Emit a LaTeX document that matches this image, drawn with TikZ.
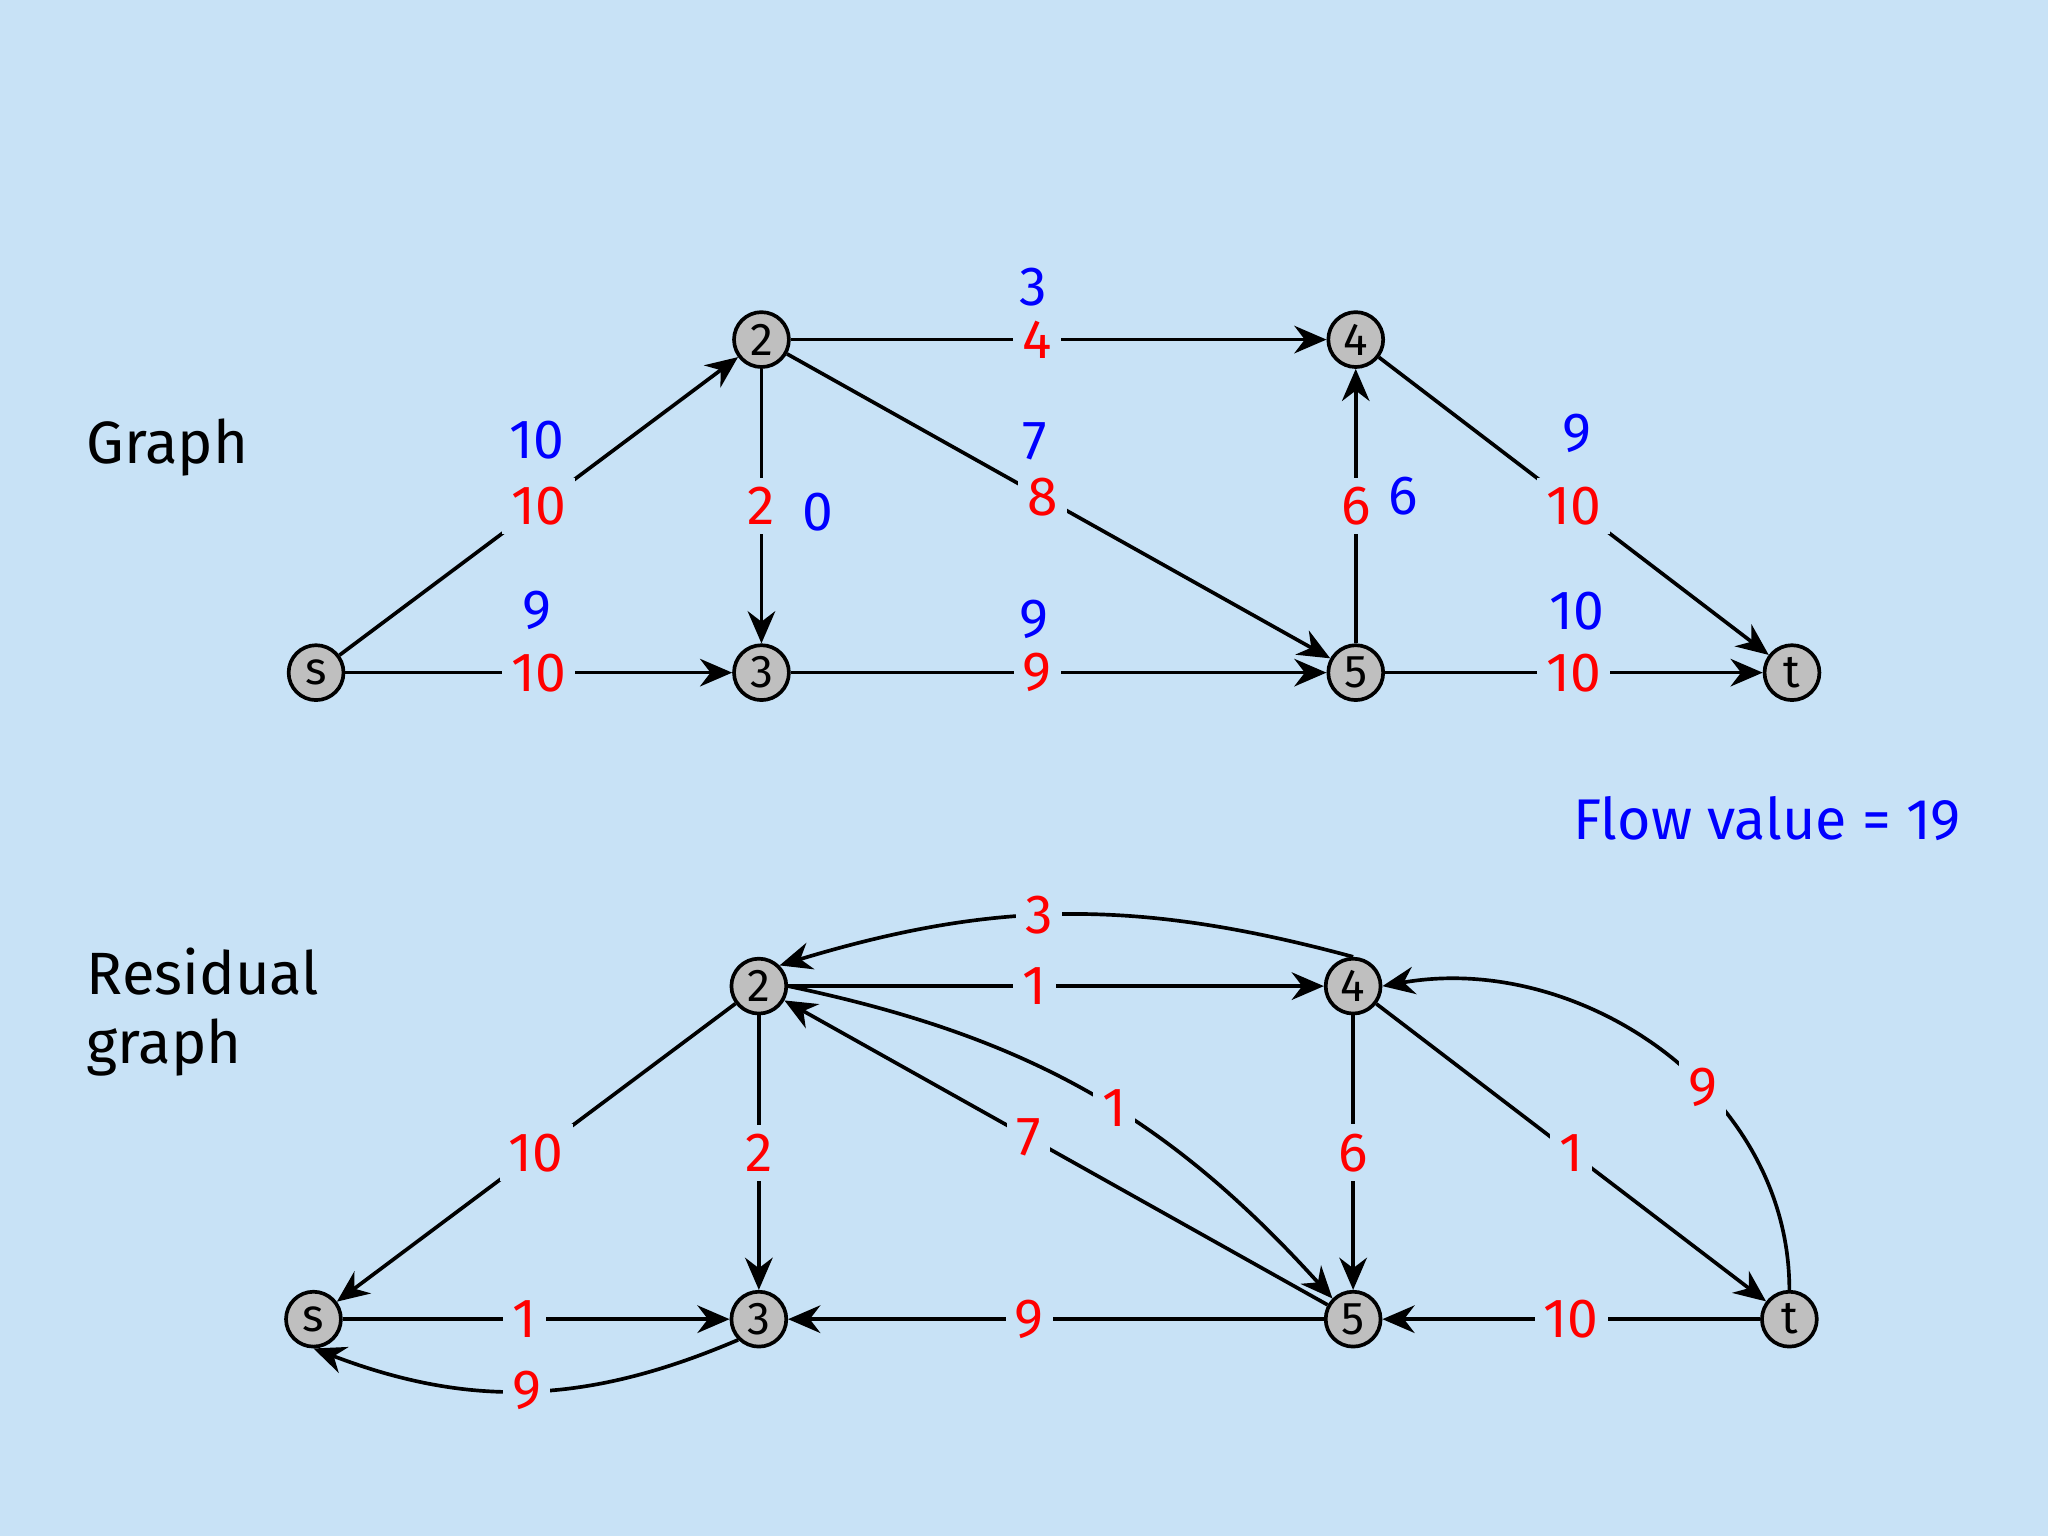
\documentclass[tikz,border=0pt]{standalone}
\usepackage{fontspec}
\setmainfont{Fira Sans}
\usetikzlibrary{arrows.meta,positioning}
\definecolor{bg}{RGB}{200,226,246}
\tikzset{
  vx/.style={circle,draw,thick,fill=gray!50,inner sep=0pt,minimum size=0.42cm,font=\fontsize{10}{12}\selectfont},
  cpty/.style={fill=bg,text=red,inner sep=2pt,font=\fontsize{12}{14}\selectfont},
  flw/.style={text=blue,font=\fontsize{12}{14}\selectfont},
  arc/.style={thick,-{Stealth[length=7pt,width=6pt]}}
}
\begin{document}
\begin{tikzpicture}[x=0.01cm,y=-0.01cm]
\fill[bg] (0,0) rectangle (1568,1176);
\useasboundingbox (0,0) rectangle (1568,1176);
\node[font=\fontsize{13}{15}\selectfont,anchor=west] at (54,343) {Graph};
\node[font=\fontsize{13}{15}\selectfont,align=left,anchor=west] at (54,775) {Residual\\graph};
\node[flw,font=\fontsize{12.5}{15}\selectfont] at (1353,627) {Flow value = 19};
% graph
\node[vx] (s)  at (242,515)  {s};
\node[vx] (n2) at (583,260)  {2};
\node[vx] (n3) at (583,515)  {3};
\node[vx] (n4) at (1038,260) {4};
\node[vx] (n5) at (1038,515) {5};
\node[vx] (t)  at (1372,515) {t};
\path[arc]
  (s) edge node[cpty] {10} (n2)
  (s) edge node[cpty] {10} (n3)
  (n2) edge node[cpty,pos=0.46] {4} (n4)
  (n2) edge node[cpty] {2} (n3)
  (n2) edge node[cpty,pos=0.47] {8} (n5)
  (n3) edge node[cpty,pos=0.46] {9} (n5)
  (n5) edge node[cpty] {6} (n4)
  (n4) edge node[cpty] {10} (t)
  (n5) edge node[cpty] {10} (t);
\node[flw] at (411,337) {10};
\node[flw] at (411,467) {9};
\node[flw] at (791,220) {3};
\node[flw] at (626,392) {0};
\node[flw] at (792,338) {7};
\node[flw] at (792,474) {9};
\node[flw] at (1074,380) {6};
\node[flw] at (1207,332) {9};
\node[flw] at (1207,468) {10};
% residual graph
\node[vx] (rs) at (240,1010)  {s};
\node[vx] (r2) at (581,755)   {2};
\node[vx] (r3) at (581,1010)  {3};
\node[vx] (r4) at (1036,755)  {4};
\node[vx] (r5) at (1036,1010) {5};
\node[vx] (rt) at (1370,1010) {t};
\path[arc]
  (r4.north) edge[bend right=16] node[cpty,pos=0.55] {3} (r2.north east)
  (r2) edge node[cpty,pos=0.46] {1} (r4)
  (r2) edge node[cpty,pos=0.5] {10} (rs)
  (r2) edge node[cpty] {2} (r3)
  (r5) edge node[cpty,pos=0.55] {7} (r2)
  (r2.east) edge[bend left=18] node[cpty,pos=0.55] {1} (r5.north west)
  (r4) edge node[cpty] {6} (r5)
  (r4) edge node[cpty] {1} (rt)
  (rt.north) edge[out=90,in=10] node[cpty,pos=0.4] {9} (r4.east)
  (rt) edge node[cpty] {10} (r5)
  (r5) edge node[cpty,pos=0.55] {9} (r3)
  (rs) edge node[cpty,pos=0.47] {1} (r3)
  (r3.south west) edge[bend left=22] node[cpty] {9} (rs.south);
\end{tikzpicture}
\end{document}
